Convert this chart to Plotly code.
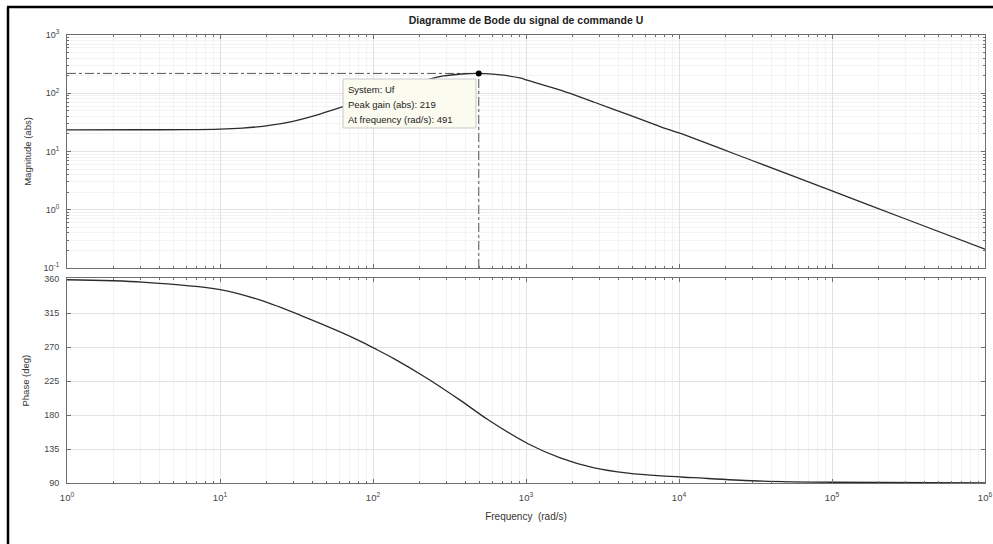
import plotly.graph_objects as go

# Bode data (frequency in rad/s)
mag_freq = [1, 3, 6, 10, 14, 20, 30, 45, 68, 100, 150, 205, 290, 380, 491,
            685, 926, 1000, 1700, 2800, 4700, 7600, 10000, 30000, 100000,
            300000, 1000000]
mag_vals = [23.5, 23.6, 23.7, 24.2, 25.2, 27.5, 33, 44, 62, 86, 122, 158,
            198, 214, 219, 206, 181, 170, 112, 70, 42.5, 26.5, 20.8, 7,
            2.1, 0.7, 0.21]

ph_freq = [1, 3.1, 10, 18.4, 33.6, 61, 83, 107, 136, 228, 375, 562, 1030,
           1690, 2790, 4650, 7640, 12500, 30000, 100000, 1000000]
ph_vals = [359, 356, 346, 332, 312, 290, 277.5, 266, 255, 228, 199, 174,
           142, 123, 110, 103, 99.3, 97, 93, 91, 90.2]

peak_freq = 491
peak_gain = 219

x_ticks = [1, 10, 100, 1000, 10000, 100000, 1000000]
x_ticktext = ["10<sup>%d</sup>" % i for i in range(7)]
mag_ticks = [0.1, 1, 10, 100, 1000]
mag_ticktext = ["10<sup>-1</sup>", "10<sup>0</sup>", "10<sup>1</sup>",
                "10<sup>2</sup>", "10<sup>3</sup>"]
ph_ticks = [90, 135, 180, 225, 270, 315, 360]

line_col = "#2b2b2b"
axis_col = "#6e6e6e"
grid_col = "#e2e2e2"
minor_grid = "#f3f3f3"
font_fam = "Liberation Sans, Arial, sans-serif"

minor_x = [k * 10 ** n for n in range(6) for k in range(2, 10)]
minor_mag = [k * 10 ** n for n in range(-1, 3) for k in range(2, 10)]

fig = go.Figure()

fig.add_trace(go.Scatter(
    x=[mag_freq[0], peak_freq], y=[peak_gain, peak_gain],
    mode="lines", line=dict(color="#555555", width=1, dash="dashdot"),
    xaxis="x", yaxis="y", hoverinfo="skip"))
fig.add_trace(go.Scatter(
    x=[peak_freq, peak_freq], y=[mag_ticks[0], peak_gain],
    mode="lines", line=dict(color="#555555", width=1, dash="dashdot"),
    xaxis="x", yaxis="y", hoverinfo="skip"))
fig.add_trace(go.Scatter(
    x=mag_freq, y=mag_vals, mode="lines",
    line=dict(color=line_col, width=1.3, shape="spline", smoothing=0.8),
    xaxis="x", yaxis="y"))
fig.add_trace(go.Scatter(
    x=[peak_freq], y=[peak_gain], mode="markers",
    marker=dict(color="black", size=6), xaxis="x", yaxis="y"))
fig.add_trace(go.Scatter(
    x=ph_freq, y=ph_vals, mode="lines",
    line=dict(color=line_col, width=1.3, shape="spline", smoothing=0.8),
    xaxis="x2", yaxis="y2"))

common_x = dict(
    type="log", range=[0, 6], tickvals=x_ticks, ticktext=x_ticktext,
    ticks="inside", ticklen=4, tickcolor=axis_col, showline=True,
    linecolor=axis_col, linewidth=1, mirror="allticks",
    showgrid=True, gridcolor=grid_col, zeroline=False, automargin=False,
    ticklabelstandoff=6,
    minor=dict(tickvals=minor_x, ticks="inside", ticklen=2,
               tickcolor=axis_col, showgrid=True, gridcolor=minor_grid),
    tickfont=dict(size=9.5, color="#444444"))

fig.update_layout(
    width=993, height=544,
    margin=dict(l=67, r=8, t=35, b=61),
    paper_bgcolor="white", plot_bgcolor="white",
    showlegend=False,
    font=dict(family=font_fam, color="#333333"),
    title=dict(text="<b>Diagramme de Bode du signal de commande U</b>",
               x=0.5, xref="paper", y=0.963, yanchor="middle",
               font=dict(size=10.5, color="#222222")),
    xaxis=dict(common_x, domain=[0, 1], anchor="y", showticklabels=False),
    xaxis2=dict(common_x, domain=[0, 1], anchor="y2",
                title=dict(text="Frequency  (rad/s)", standoff=10,
                           font=dict(size=10, color="#333333"))),
    yaxis=dict(type="log", range=[-1, 3], domain=[0.48, 1], anchor="x",
               tickvals=mag_ticks, ticktext=mag_ticktext,
               ticks="inside", ticklen=4, tickcolor=axis_col,
               showline=True, linecolor=axis_col, mirror="allticks",
               showgrid=True, gridcolor=grid_col, zeroline=False,
               automargin=False, ticklabelstandoff=5,
               minor=dict(tickvals=minor_mag, ticks="inside", ticklen=2,
                          tickcolor=axis_col, showgrid=True,
                          gridcolor=minor_grid),
               tickfont=dict(size=9, color="#444444"),
               title=dict(text="Magnitude (abs)", standoff=10,
                          font=dict(size=9.5, color="#333333"))),
    yaxis2=dict(range=[90, 361], domain=[0, 0.457], anchor="x2",
                tickvals=ph_ticks, ticks="inside", ticklen=4,
                tickcolor=axis_col, showline=True, linecolor=axis_col,
                mirror="allticks", showgrid=True, gridcolor=grid_col,
                zeroline=False, automargin=False, ticklabelstandoff=5,
                tickfont=dict(size=9, color="#444444"),
                title=dict(text="Phase (deg)", standoff=12,
                           font=dict(size=9.5, color="#333333"))),
)

# datatip box
box_x0, box_x1 = (343 - 67) / 918, (476 - 67) / 918
box_y1, box_y0 = (483 - 79) / 448, (483 - 128) / 448
fig.add_shape(type="rect", xref="paper", yref="paper",
              x0=box_x0, x1=box_x1, y0=box_y0, y1=box_y1,
              fillcolor="#fbfbef", line=dict(color="#c9c9c9", width=1))
tip_lines = ["System: Uf", "Peak gain (abs): %d" % peak_gain,
             "At frequency (rad/s): %d" % peak_freq]
for i, txt in enumerate(tip_lines):
    fig.add_annotation(text=txt, xref="paper", yref="paper",
                       x=box_x0 + 3 / 918, y=(483 - (90 + 14.5 * i)) / 448,
                       xanchor="left", yanchor="middle", showarrow=False,
                       font=dict(size=9.5, color="#222222"))

# screenshot frame (left and top edges)
fig.add_shape(type="line", xref="paper", yref="paper",
              x0=(8 - 67) / 918, x1=(8 - 67) / 918,
              y0=(483 - 544) / 448, y1=(483 - 7) / 448,
              line=dict(color="black", width=2.5))
fig.add_shape(type="line", xref="paper", yref="paper",
              x0=(7 - 67) / 918, x1=(993 - 67) / 918,
              y0=(483 - 7) / 448, y1=(483 - 7) / 448,
              line=dict(color="black", width=2.5))

fig.write_html("out.html", config={"displayModeBar": False},
               post_script="document.body.style.margin='0px';")
